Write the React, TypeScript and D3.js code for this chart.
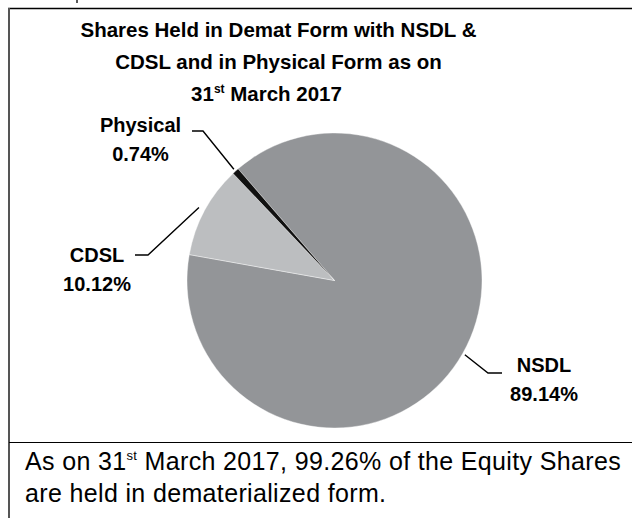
import React from "react";
import * as d3 from "d3";

const categories = ["NSDL", "CDSL", "Physical"];
const shares = [89.14, 10.12, 0.74];
const valueLabels = ["89.14%", "10.12%", "0.74%"];
const titleLines = ["Shares Held in Demat Form with NSDL &", "CDSL and in Physical Form as on"];
const footerLines = ["As on 31", "st", " March 2017, 99.26% of the Equity Shares", "are held in dematerialized form."];

const W = 632;
const H = 518;
const cx = 334.5;
const cy = 280.5;
const R = 147.5;
const startDeg = -40.8;
const colors = ["#939598", "#bcbec0", "#111111"];

// label layout: text centre, name baseline, elbow point, line end, leader start radius
const labelLayout = [
  { tx: 544, ty: 371.5, elbow: [488, 373], end: [502, 373], r0: 150 },
  { tx: 97, ty: 261.5, elbow: [148, 255], end: [135, 255], r0: 154 },
  { tx: 140.5, ty: 131.5, elbow: [203, 131], end: [192, 131], r0: 150 },
];

export default function App() {
  const pie = d3
    .pie<number>()
    .sort(null)
    .value((d) => d)
    .startAngle((startDeg * Math.PI) / 180)
    .endAngle((startDeg * Math.PI) / 180 + 2 * Math.PI);
  const arcs = pie(shares);
  const arc = d3.arc<d3.PieArcDatum<number>>().innerRadius(0).outerRadius(R);
  const font = "'Liberation Sans', Arial, Helvetica, sans-serif";

  return (
    <svg width={W} height={H} style={{ position: "absolute", left: 0, top: 0 }} fontFamily={font}>
      <rect x={0} y={0} width={W} height={H} fill="#fff" />
      {/* frame */}
      <line x1={77} y1={0} x2={77} y2={3} stroke="#222" strokeWidth={1.5} />
      <line x1={8} y1={8.5} x2={W} y2={8.5} stroke="#000" strokeWidth={1.6} />
      <line x1={9} y1={8} x2={9} y2={H} stroke="#555" strokeWidth={2} />
      <line x1={9} y1={442.5} x2={W} y2={442.5} stroke="#000" strokeWidth={1.2} />

      {/* title */}
      <g fontWeight="bold" fontSize={20.5} textAnchor="middle" fill="#000">
        {titleLines.map((t, i) => (
          <text key={i} x={278.5} y={37 + i * 32}>
            {t}
          </text>
        ))}
        <text x={266.5} y={101}>
          31<tspan fontSize={12} dy={-8}>st</tspan>
          <tspan dy={8}> March 2017</tspan>
        </text>
      </g>

      {/* pie */}
      <g transform={`translate(${cx},${cy})`}>
        {arcs.map((a, i) => (
          <path key={categories[i]} d={arc(a) || ""} fill={colors[i]} stroke="#fff" strokeWidth={0.4} />
        ))}
      </g>

      {/* leaders and labels */}
      {arcs.map((a, i) => {
        const L = labelLayout[i];
        const mid = (a.startAngle + a.endAngle) / 2;
        const sx = cx + L.r0 * Math.sin(mid);
        const sy = cy - L.r0 * Math.cos(mid);
        return (
          <g key={categories[i]}>
            <polyline
              points={`${sx},${sy} ${L.elbow[0]},${L.elbow[1]} ${L.end[0]},${L.end[1]}`}
              fill="none"
              stroke="#000"
              strokeWidth={1.4}
            />
            <text x={L.tx} y={L.ty} textAnchor="middle" fontWeight="bold" fontSize={20} fill="#000">
              {categories[i]}
            </text>
            <text x={L.tx} y={L.ty + 29} textAnchor="middle" fontWeight="bold" fontSize={20} fill="#000">
              {valueLabels[i]}
            </text>
          </g>
        );
      })}

      {/* footer */}
      <g fontSize={25} fill="#000" letterSpacing={0.35}>
        <text x={25} y={470}>
          {footerLines[0]}
          <tspan fontSize={13} dy={-10}>{footerLines[1]}</tspan>
          <tspan dy={10}>{footerLines[2]}</tspan>
        </text>
        <text x={25} y={502}>
          {footerLines[3]}
        </text>
      </g>
    </svg>
  );
}
